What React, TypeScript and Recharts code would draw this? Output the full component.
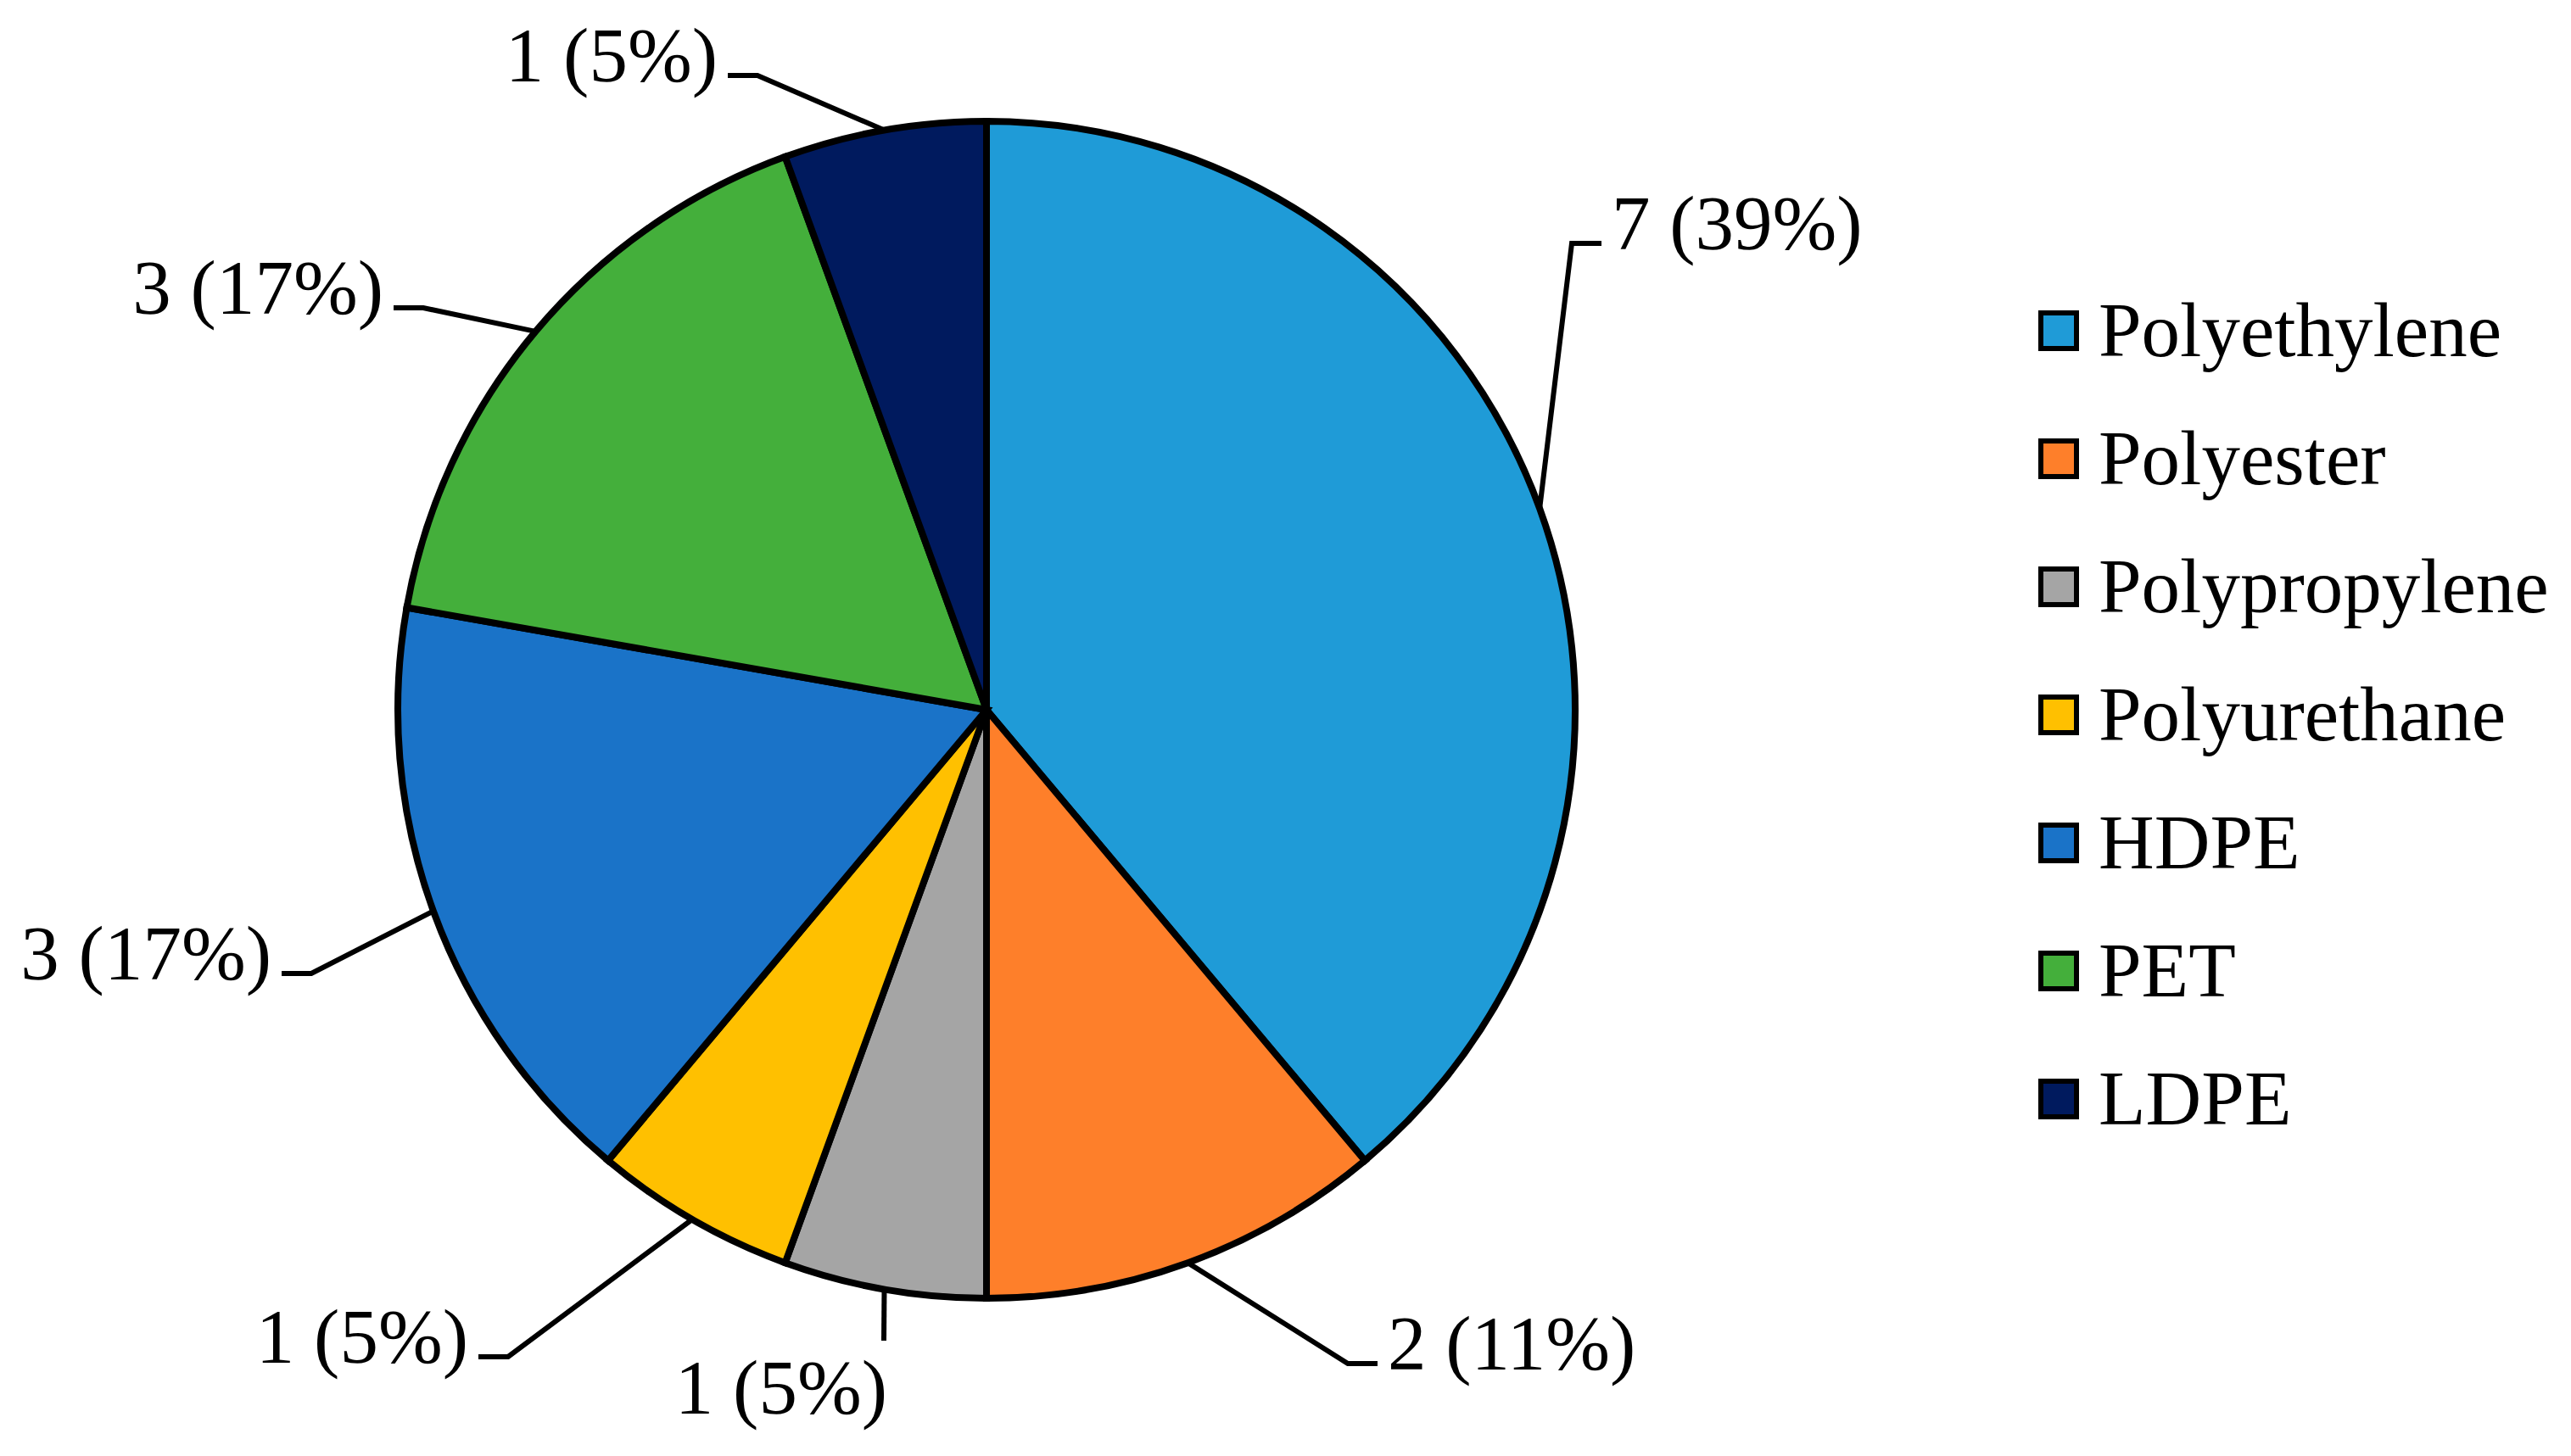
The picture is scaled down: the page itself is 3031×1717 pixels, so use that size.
import React from "react";
import { PieChart, Pie, Cell, Legend } from "recharts";

const categories = [
  "Polyethylene",
  "Polyester",
  "Polypropylene",
  "Polyurethane",
  "HDPE",
  "PET",
  "LDPE",
];
const counts = [7, 2, 1, 1, 3, 3, 1];
const pctLabels = ["39%", "11%", "5%", "5%", "17%", "17%", "5%"];
const colors = [
  "#1F9BD7",
  "#FE7F2A",
  "#A5A5A5",
  "#FFC000",
  "#1A73C8",
  "#44AF3B",
  "#001A5E",
];

// elbow of each leader line, relative to the pie centre; dir: 1 right, -1 left, 0 straight down
const labelAnchors = [
  { dx: 690, dy: -550, dir: 1 },
  { dx: 426, dy: 771, dir: 1 },
  { dx: -121, dy: 744, dir: 0 },
  { dx: -564, dy: 763, dir: -1 },
  { dx: -796, dy: 311, dir: -1 },
  { dx: -664, dy: -474, dir: -1 },
  { dx: -270, dy: -748, dir: -1 },
];

const data = categories.map((name, i) => ({ name, value: counts[i] }));

const FONT = '"Liberation Serif", "Times New Roman", serif';
const RAD = Math.PI / 180;

const renderLabel = (props: any) => {
  const { cx, cy, midAngle, outerRadius, index } = props;
  const a = labelAnchors[index];
  const sx = cx + Math.cos(-midAngle * RAD) * outerRadius;
  const sy = cy + Math.sin(-midAngle * RAD) * outerRadius;
  const ex = cx + a.dx;
  const ey = cy + a.dy;
  const text = `${counts[index]} (${pctLabels[index]})`;
  if (a.dir === 0) {
    return (
      <g key={`lbl-${index}`}>
        <polyline
          points={`${sx},${sy} ${ex},${ey}`}
          stroke="#000"
          strokeWidth={6}
          fill="none"
        />
        <text
          x={ex + 4}
          y={ey + 86}
          textAnchor="end"
          fontFamily={FONT}
          fontSize={91}
          fill="#000"
        >
          {text}
        </text>
      </g>
    );
  }
  const hx = ex + a.dir * 35;
  return (
    <g key={`lbl-${index}`}>
      <polyline
        points={`${sx},${sy} ${ex},${ey} ${hx},${ey}`}
        stroke="#000"
        strokeWidth={6}
        fill="none"
      />
      <text
        x={hx + a.dir * 12}
        y={ey + 7}
        textAnchor={a.dir > 0 ? "start" : "end"}
        fontFamily={FONT}
        fontSize={91}
        fill="#000"
      >
        {text}
      </text>
    </g>
  );
};

const renderLegend = () => (
  <div style={{ fontFamily: FONT }}>
    {categories.map((name, i) => (
      <div
        key={name}
        style={{ display: "flex", alignItems: "center", height: 151 }}
      >
        <div
          style={{
            width: 48,
            height: 48,
            boxSizing: "border-box",
            border: "6px solid #000",
            background: colors[i],
            marginRight: 23,
          }}
        />
        <span style={{ fontSize: 91, color: "#000", lineHeight: "100px" }}>
          {name}
        </span>
      </div>
    ))}
  </div>
);

export default function App() {
  return (
    <div
      style={{
        position: "absolute",
        left: 0,
        top: 0,
        width: 3031,
        height: 1717,
        background: "#fff",
      }}
    >
      <PieChart
        width={3031}
        height={1717}
        margin={{ top: 0, right: 0, bottom: 0, left: 0 }}
      >
        <Pie
          data={data}
          dataKey="value"
          nameKey="name"
          cx={1163}
          cy={837}
          outerRadius={694}
          startAngle={90}
          endAngle={-270}
          stroke="#000"
          strokeWidth={8}
          label={renderLabel}
          labelLine={false}
          isAnimationActive={false}
        >
          {data.map((entry, index) => (
            <Cell key={`cell-${index}`} fill={colors[index]} />
          ))}
        </Pie>
        <Legend
          layout="vertical"
          align="right"
          verticalAlign="top"
          content={renderLegend}
          wrapperStyle={{ left: 2403, top: 314, right: "auto", width: 628 }}
        />
      </PieChart>
    </div>
  );
}
